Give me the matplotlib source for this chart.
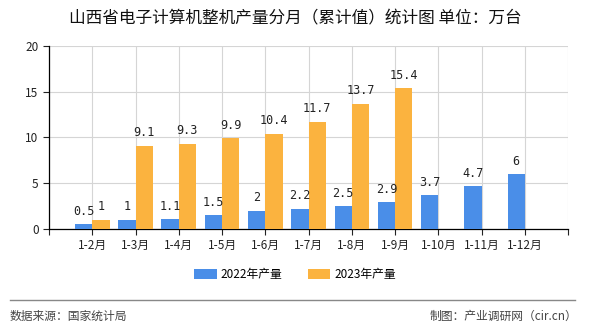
import matplotlib.pyplot as plt
import numpy as np
from matplotlib.lines import Line2D

plt.rcParams['font.family'] = ['Noto Sans CJK SC', 'DejaVu Sans']

# data
months = ['1-2月', '1-3月', '1-4月', '1-5月', '1-6月', '1-7月', '1-8月', '1-9月', '1-10月', '1-11月', '1-12月']
prod_2022 = [0.5, 1, 1.1, 1.5, 2, 2.2, 2.5, 2.9, 3.7, 4.7, 6]
prod_2023 = [1, 9.1, 9.3, 9.9, 10.4, 11.7, 13.7, 15.4]
c22 = '#4a8ee8'
c23 = '#fbb33f'

fig = plt.figure(figsize=(5.9, 3.3), dpi=100)
ax = fig.add_axes([0.083, 0.306, 0.88, 0.555])

x = np.arange(1, len(months) + 1)
w = 0.4
ax.bar(x[:len(prod_2022)] - w / 2, prod_2022, w, color=c22, label='2022年产量', zorder=3)
ax.bar(x[:len(prod_2023)] + w / 2, prod_2023, w, color=c23, label='2023年产量', zorder=3)

for xi, v in zip(x, prod_2022):
    ax.text(xi - w / 2, v + 0.7, f'{v:g}', ha='center', va='bottom', fontsize=8.5,
            family='DejaVu Sans Mono', color='#222222')
for xi, v in zip(x, prod_2023):
    ax.text(xi + w / 2, v + 0.7, f'{v:g}', ha='center', va='bottom', fontsize=8.5,
            family='DejaVu Sans Mono', color='#222222')

ax.set_xlim(0, 12)
ax.set_ylim(0, 20)
ax.set_yticks([0, 5, 10, 15, 20])
ax.set_xticks(np.arange(0, 13))
ax.set_xticklabels([''] + months + [''])
ax.tick_params(axis='both', labelsize=8.5, length=4, width=0.8, colors='#222222')
ax.grid(True, color='#d5d5d5', linewidth=0.8, zorder=0)
for s in ['top', 'right']:
    ax.spines[s].set_visible(False)
ax.spines['left'].set_linewidth(0.9)
ax.spines['bottom'].set_linewidth(0.9)

fig.suptitle('山西省电子计算机整机产量分月（累计值）统计图 单位：万台', y=0.968, fontsize=12, color='#111111')

fig.legend(loc='center', bbox_to_anchor=(0.5, 0.167), ncol=2, frameon=False, fontsize=8.5,
           handlelength=1.9, handleheight=0.9, columnspacing=2.2, handletextpad=0.3)

fig.add_artist(Line2D([0.017, 0.975], [0.09, 0.09], color='#888888', linewidth=1))
fig.text(0.017, 0.042, '数据来源：国家统计局', fontsize=8.5, color='#444444', va='center')
fig.text(0.978, 0.042, '制图：产业调研网（cir.cn）', fontsize=8.5, color='#444444', va='center', ha='right')

fig.savefig('out.png', dpi=100)
